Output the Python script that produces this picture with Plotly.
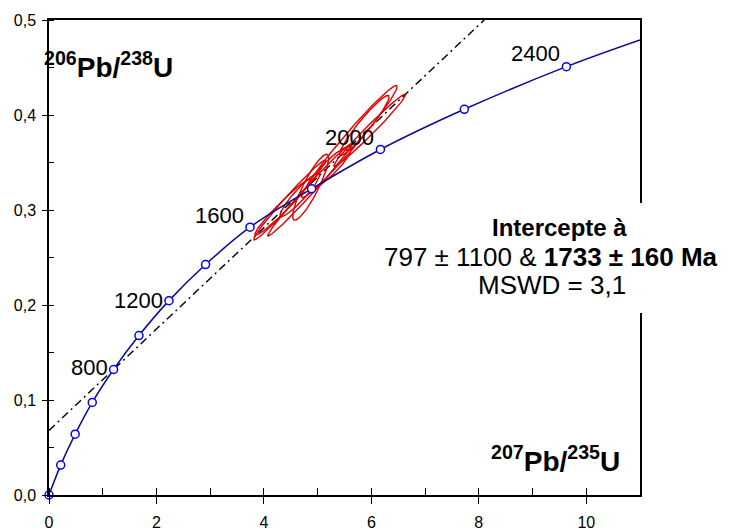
import numpy as np
import plotly.graph_objects as go

# ---- Data ----
ages = [0, 200, 400, 600, 800, 1000, 1200, 1400, 1600, 1800, 2000, 2200, 2400]
pb207_u235 = [0, 0.218, 0.487, 0.805, 1.202, 1.674, 2.233, 2.914, 3.741, 4.887, 6.169, 7.73, 9.63]
pb206_u238 = [0, 0.0315, 0.064, 0.0975, 0.1321, 0.1678, 0.2046, 0.2426, 0.2819, 0.3223, 0.3637, 0.406, 0.4509]
curve_end_x = 11.0
curve_end_y = 0.479

labelled_ages = [800, 1200, 1600, 2000, 2400]

discordia_x = [0.0, 8.1]
discordia_y = [0.068, 0.5]

# analyses: centre, bounding half-widths, correlation
ell_x = [4.48, 4.35, 4.87, 4.85, 5.59, 5.97, 5.22, 5.87, 4.67]
ell_y = [0.3105, 0.303, 0.324, 0.321, 0.372, 0.384, 0.344, 0.389, 0.316]
ell_sx = [0.67, 0.52, 0.335, 0.78, 0.89, 0.67, 0.41, 0.46, 0.37]
ell_sy = [0.042, 0.0295, 0.0347, 0.0484, 0.059, 0.038, 0.023, 0.0316, 0.023]
ell_rho = [0.985, 0.97, 0.88, 0.99, 0.98, 0.985, 0.90, 0.95, 0.93]

x_ticks = [0, 2, 4, 6, 8, 10]
y_ticks = [0.0, 0.1, 0.2, 0.3, 0.4, 0.5]

FONT = "Arial, Liberation Sans, sans-serif"
fig = go.Figure()

# discordia
fig.add_trace(go.Scatter(x=discordia_x, y=discordia_y, mode="lines",
                         line=dict(color="black", width=1.4, dash="8px,4px,2px,4px"),
                         hoverinfo="skip", showlegend=False))

# ellipses
t = np.linspace(0, 2 * np.pi, 200)
for cx, cy, sx, sy, r in zip(ell_x, ell_y, ell_sx, ell_sy, ell_rho):
    ex = cx + sx * np.cos(t)
    ey = cy + sy * (r * np.cos(t) + np.sqrt(1 - r * r) * np.sin(t))
    fig.add_trace(go.Scatter(x=ex, y=ey, mode="lines",
                             line=dict(color="#e00000", width=1.4),
                             hoverinfo="skip", showlegend=False))

# concordia curve
fig.add_trace(go.Scatter(x=pb207_u235 + [curve_end_x], y=pb206_u238 + [curve_end_y],
                         mode="lines", line=dict(color="#0a0a90", width=1.5, shape="spline"),
                         hoverinfo="skip", showlegend=False))
fig.add_trace(go.Scatter(x=pb207_u235, y=pb206_u238, mode="markers",
                         marker=dict(symbol="circle", size=8, color="white",
                                     line=dict(color="#0000ff", width=1.5)),
                         showlegend=False, cliponaxis=False))

# invisible trace to carry the inner-tick overlay axes
fig.add_trace(go.Scatter(x=[0], y=[0], xaxis="x2", yaxis="y2", mode="markers",
                         marker=dict(opacity=0), hoverinfo="skip", showlegend=False))

# age labels
label_shift = {800: 2, 1200: 0, 1600: 12, 2000: 12, 2400: 13}
for a in labelled_ages:
    i = ages.index(a)
    fig.add_annotation(x=pb207_u235[i], y=pb206_u238[i], text=str(a), showarrow=False,
                       xanchor="right", yanchor="middle", xshift=-4, yshift=label_shift[a],
                       font=dict(family=FONT, size=22, color="black"))

# axis titles inside plot
fig.add_annotation(xref="paper", yref="paper", x=-0.011, y=0.905, xanchor="left", yanchor="middle",
                   text="<b><sup>206</sup>Pb/<sup>238</sup>U</b>", showarrow=False,
                   font=dict(family=FONT, size=28, color="black"))
fig.add_annotation(xref="paper", yref="paper", x=0.97, y=0.075, xanchor="right", yanchor="middle",
                   text="<b><sup>207</sup>Pb/<sup>235</sup>U</b>", showarrow=False,
                   font=dict(family=FONT, size=28, color="black"))

# white panel hiding the right frame behind the text
fig.add_shape(type="rect", xref="paper", yref="paper", x0=0.6, x1=1.2,
              y0=(495 - 313) / 475, y1=(495 - 203) / 475,
              fillcolor="white", line=dict(width=0), layer="above")

fig.add_annotation(xref="paper", yref="paper", x=(559 - 49) / 591, y=(495 - 228) / 475,
                   text="<b>Intercepte à</b>", showarrow=False,
                   font=dict(family=FONT, size=24, color="black"),
                   xanchor="center", yanchor="middle")
fig.add_annotation(xref="paper", yref="paper", x=(551 - 49) / 591, y=(495 - 257) / 475,
                   text="797 ± 1100 & <b>1733 ± 160 Ma</b>", showarrow=False,
                   font=dict(family=FONT, size=26, color="black"),
                   xanchor="center", yanchor="middle")
fig.add_annotation(xref="paper", yref="paper", x=(552 - 49) / 591, y=(495 - 285) / 475,
                   text="MSWD = 3,1", showarrow=False,
                   font=dict(family=FONT, size=26, color="black"),
                   xanchor="center", yanchor="middle")

axis_common = dict(showgrid=False, zeroline=False, automargin=False)
# the page body adds an 8px offset, so the figure is 8px smaller and margins compensate
fig.update_layout(
    width=721, height=522,
    margin=dict(l=41, r=89, t=12, b=35),
    paper_bgcolor="white", plot_bgcolor="white",
    separators=", ",
    font=dict(family=FONT, size=16, color="black"),
    xaxis=dict(range=[0, 11], tickvals=x_ticks, ticks="outside", ticklen=7, tickwidth=1,
               tickcolor="black", showline=True, linecolor="black", linewidth=1.5, mirror=True,
               tickfont=dict(size=16), ticklabelstandoff=5,
               minor=dict(dtick=1, ticks="inside", ticklen=7, tickcolor="black", tickwidth=1),
               **axis_common),
    yaxis=dict(range=[0, 0.5], tickvals=y_ticks, tickformat=".1f", ticks="outside", ticklen=5,
               tickwidth=1, tickcolor="black", showline=True, linecolor="black", linewidth=1.5,
               mirror=True, tickfont=dict(size=16), ticklabelstandoff=3,
               minor=dict(dtick=0.05, ticks="inside", ticklen=5, tickcolor="black", tickwidth=1),
               **axis_common),
    xaxis2=dict(range=[0, 11], overlaying="x", anchor="y", tickvals=x_ticks, ticks="inside",
                ticklen=7, tickcolor="black", showticklabels=False, showline=False, **axis_common),
    yaxis2=dict(range=[0, 0.5], overlaying="y", anchor="x", tickvals=y_ticks, ticks="inside",
                ticklen=5, tickcolor="black", showticklabels=False, showline=False, **axis_common),
    showlegend=False,
)

fig.write_html("out.html")
